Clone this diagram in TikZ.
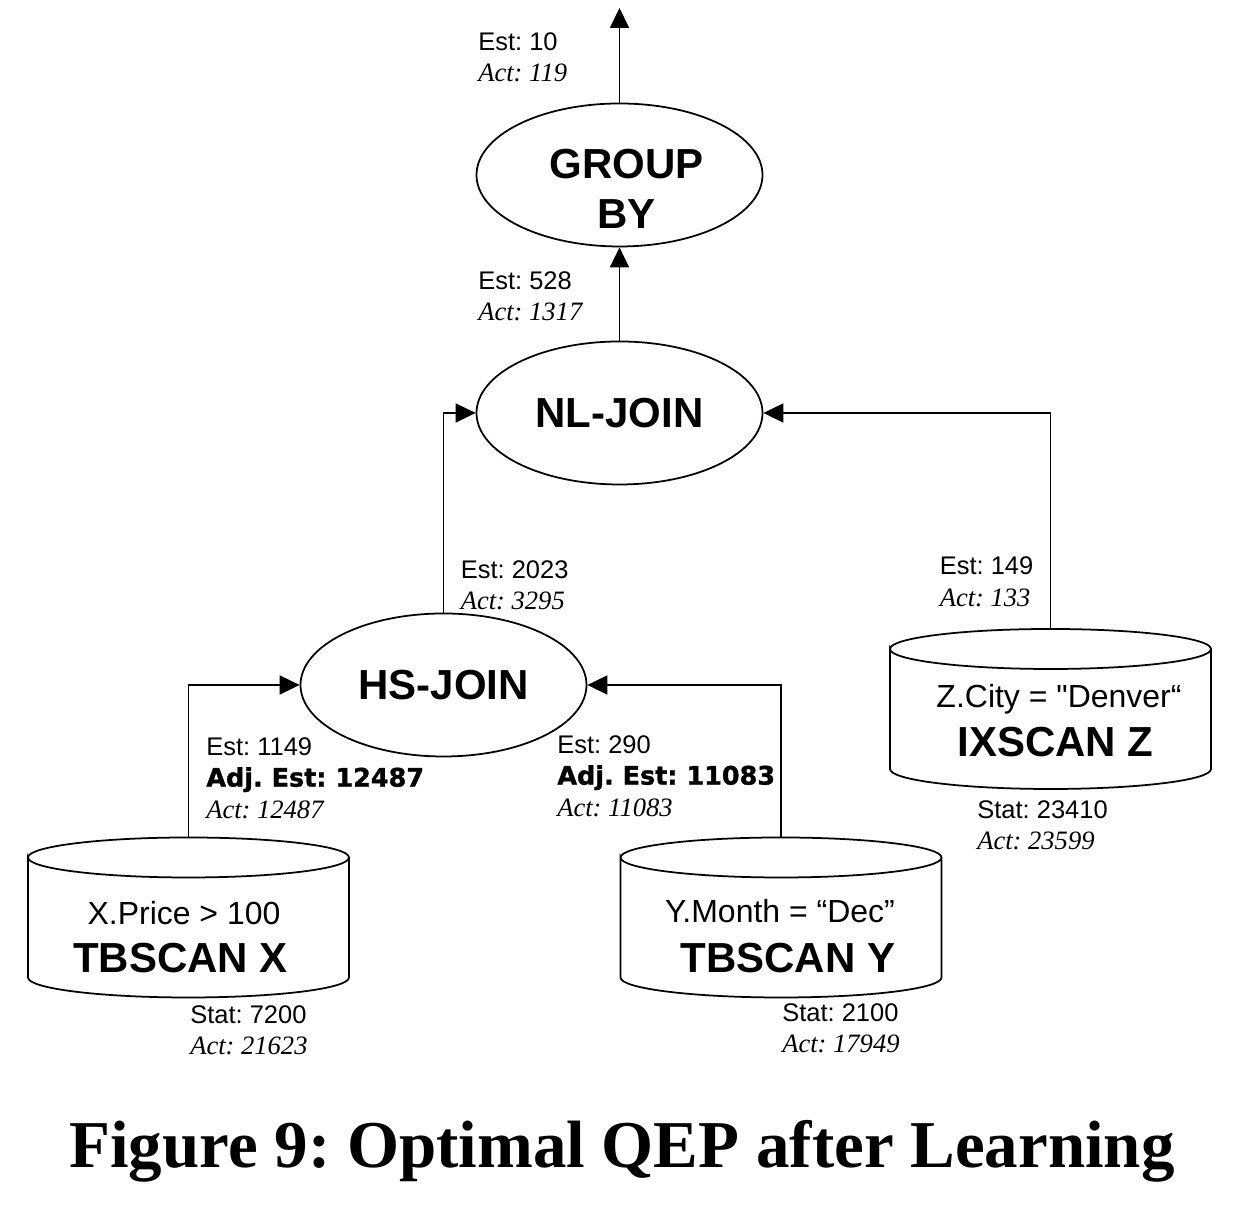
\documentclass[tikz,border=0pt]{standalone}
\usepackage{fontspec}
\setmainfont{Liberation Serif}
\setsansfont{Liberation Sans}
\newfontfamily\adjfamily[FakeBold=1.2]{DejaVu Sans Bold}
\usetikzlibrary{arrows.meta, positioning, shapes.geometric}
\frenchspacing

\newcommand{\estfont}{\sffamily\fontsize{14.5}{17.9}\selectfont}
\newcommand{\actfont}{\rmfamily\itshape\fontsize{15.1}{17.9}\selectfont}
\newcommand{\adjfont}{\adjfamily\fontsize{14.5}{17.9}\selectfont}
\newcommand{\condfont}{\sffamily\fontsize{18.2}{21}\selectfont}
\newcommand{\opfont}{\sffamily\bfseries\fontsize{23.9}{28.45}\selectfont}

% cylinder outline round a scan node
\newcommand{\drawdb}[1]{%
  \draw[line width=1pt] ([yshift=-4mm]#1.north west)
    arc[start angle=180, end angle=-180, x radius=3.21cm, y radius=4mm]
    -- ([yshift=4mm]#1.south west)
    arc[start angle=180, end angle=360, x radius=3.21cm, y radius=4mm]
    -- ([yshift=-4mm]#1.north east);}

\tikzset{
  opnode/.style={ellipse, draw, line width=1pt, inner sep=0pt,
    minimum width=5.72cm, minimum height=2.86cm, font=\opfont},
  scanbox/.style={rectangle, inner sep=0pt, outer sep=0pt,
    minimum width=6.42cm, minimum height=3.2cm},
  flow/.style={-{Triangle[length=0.4cm, width=0.38cm]}, line width=1pt},
  stat/.style={anchor=north west, inner sep=0pt, align=left, font=\estfont},
  cond/.style={anchor=base, inner sep=0pt, font=\condfont},
  scanname/.style={anchor=base, inner sep=0pt, font=\opfont}
}

\begin{document}
\begin{tikzpicture}
  \useasboundingbox (0,0) rectangle (24.76,24.2);

  % Operators
  \node[opnode] (grp) at (12.39,20.70) {};
  \node[font=\opfont, align=center, inner sep=0pt] (grptxt) at (12.53,20.42) {GROUP\\BY};
  \node[opnode] (nl) at (12.39,15.94) {NL-JOIN};
  \node[opnode] (hs) at (8.87,10.50) {HS-JOIN};
  \coordinate (out) at (12.39,24.04);

  % Scans
  \node[scanbox] (tbx) at (3.77,5.85) {};
  \drawdb{tbx}
  \node[cond] (tbxcond) at (3.68,5.70) {X.Price > 100};
  \node[scanname] (tbxname) at (3.61,4.74) {TBSCAN X};

  \node[scanbox] (tby) at (15.62,5.85) {};
  \drawdb{tby}
  \node[cond] (tbycond) at (15.60,5.74) {Y.Month = “Dec”};
  \node[scanname] (tbyname) at (15.76,4.74) {TBSCAN Y};

  \node[scanbox] (ixz) at (21.01,10.02) {};
  \drawdb{ixz}
  \node[cond] (ixzcond) at (21.18,10.04) {Z.City = \textquotedbl Denver“};
  \node[scanname] (ixzname) at (21.11,9.06) {IXSCAN Z};

  % Data flow
  \draw[flow] (grp.north) -- (out);
  \draw[flow] (nl.north) -- (grp.south);
  \draw[flow] (hs.north) |- (nl.west);
  \draw[flow] (ixz.north) |- (nl.east);
  \draw[flow] (tbx.north) |- (hs.west);
  \draw[flow] (tby.north) |- (hs.east);

  % Cardinalities
  \node[stat] (grpest) at (9.56,23.56) {Est: 10\\{\actfont Act: 119}};
  \node[stat] (nlest) at (9.56,18.78) {Est: 528\\{\actfont Act: 1317}};
  \node[stat] (hsest) at (9.21,13.00) {Est: 2023\\{\actfont Act: 3295}};
  \node[stat] (ixzest) at (18.79,13.07) {Est: 149\\{\actfont Act: 133}};
  \node[stat] (tbxest) at (4.12,9.46) {Est: 1149\\{\adjfont Adj. Est: 12487}\\{\actfont Act: 12487}};
  \node[stat] (tbyest) at (11.14,9.50) {Est: 290\\{\adjfont Adj. Est: 11083}\\{\actfont Act: 11083}};
  \node[stat] (tbxstat) at (3.80,4.10) {Stat: 7200\\{\actfont Act: 21623}};
  \node[stat] (tbystat) at (15.64,4.14) {Stat: 2100\\{\actfont Act: 17949}};
  \node[stat] (ixzstat) at (19.54,8.20) {Stat: 23410\\{\actfont Act: 23599}};

  % Caption
  \node[anchor=base, inner sep=0pt, font=\rmfamily\bfseries\fontsize{38.1}{40}\selectfont] (caption)
    at (12.44,0.84) {Figure 9: Optimal QEP after Learning};
\end{tikzpicture}
\end{document}
